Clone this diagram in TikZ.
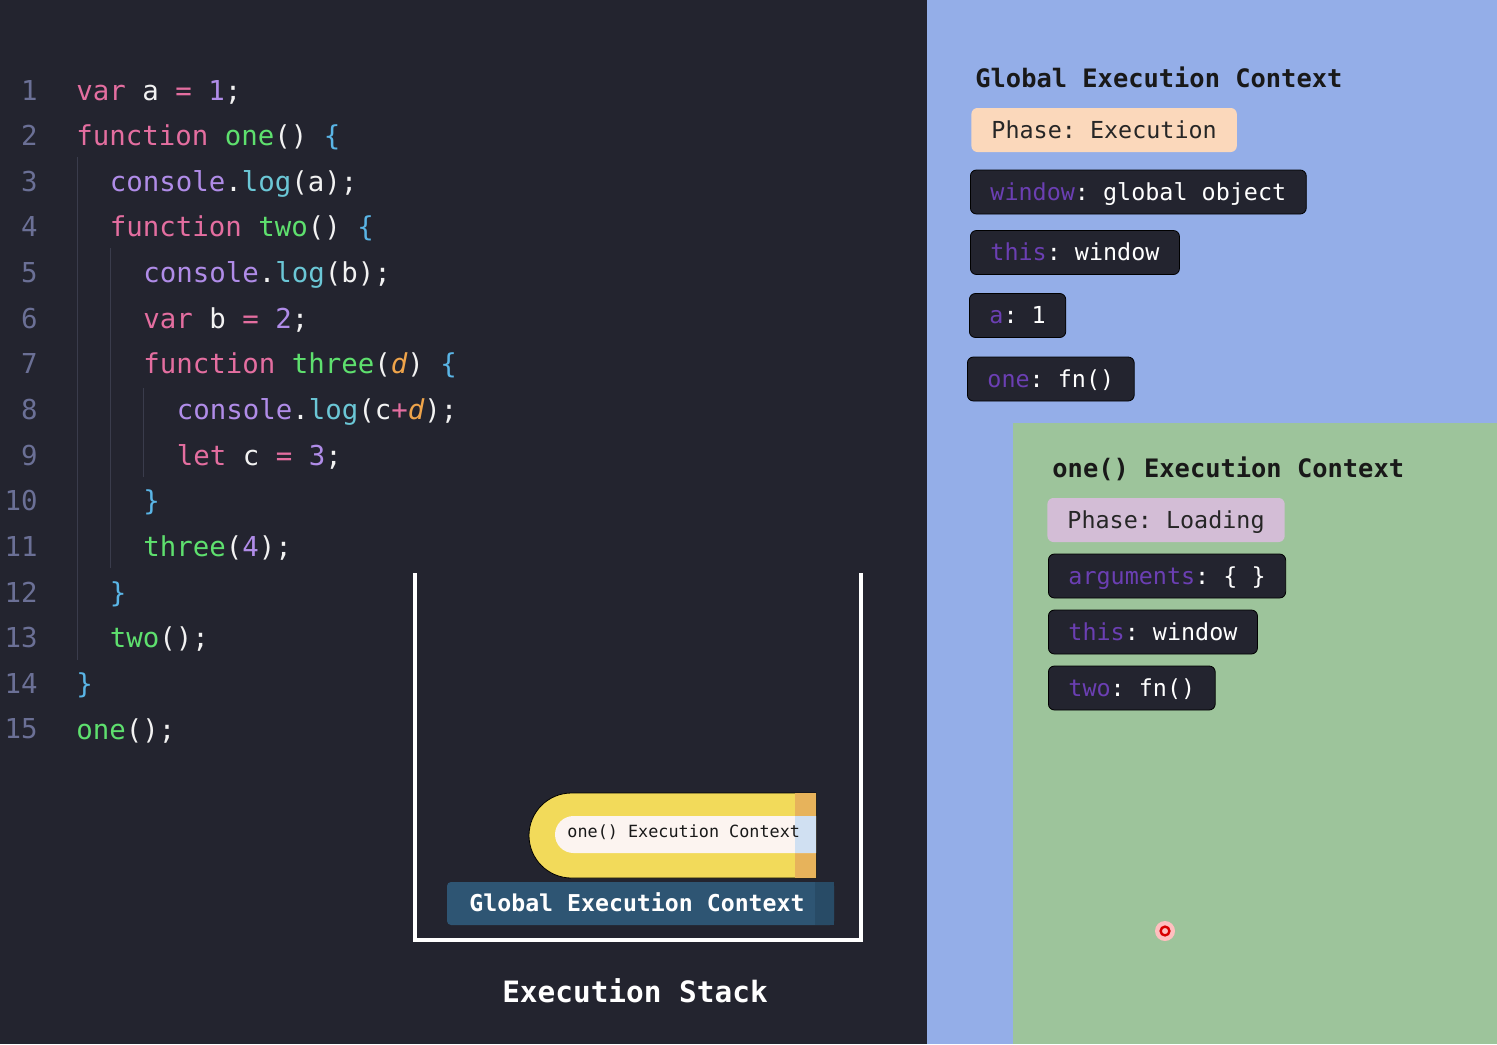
\documentclass[tikz,border=0pt]{standalone}
\usepackage{fontspec}
\setmonofont{DejaVu Sans Mono}
\usepackage{xcolor}

\definecolor{bgdark}{HTML}{23242F}
\definecolor{bgblue}{HTML}{94AEE8}
\definecolor{bggreen}{HTML}{9DC49B}
\definecolor{linegrey}{HTML}{6B7096}
\definecolor{guidegrey}{HTML}{3A3C4C}
\definecolor{codewhite}{HTML}{F2F2F2}
\definecolor{jspink}{HTML}{E46EA0}
\definecolor{jsgreen}{HTML}{5EE06E}
\definecolor{jslilac}{HTML}{B08CE8}
\definecolor{jscyan}{HTML}{6BC7D6}
\definecolor{jsblue}{HTML}{5AB5E6}
\definecolor{jsorange}{HTML}{EFA44A}
\definecolor{keypurple}{HTML}{6B3FB3}
\definecolor{boxdark}{HTML}{23242F}
\definecolor{peach}{HTML}{FBD8BB}
\definecolor{lilac}{HTML}{D3BDD6}
\definecolor{stackblue}{HTML}{2E5573}
\definecolor{stackdeep}{HTML}{284B66}
\definecolor{pillyellow}{HTML}{F2DA5A}
\definecolor{pillorange}{HTML}{E7B35B}
\definecolor{pillwhite}{HTML}{FCF4F0}
\definecolor{pillblue}{HTML}{D0E0F2}

\newcommand{\jskw}[1]{\textcolor{jspink}{#1}}
\newcommand{\jsfn}[1]{\textcolor{jsgreen}{#1}}
\newcommand{\jsnum}[1]{\textcolor{jslilac}{#1}}
\newcommand{\jsobj}[1]{\textcolor{jslilac}{#1}}
\newcommand{\jsmeth}[1]{\textcolor{jscyan}{#1}}
\newcommand{\jsbrc}[1]{\textcolor{jsblue}{#1}}
\newcommand{\jsarg}[1]{\textcolor{jsorange}{\itshape #1}}
\newcommand{\jskey}[1]{\textcolor{keypurple}{#1}}

\begin{document}
\begin{tikzpicture}[x=0.5pt,y=-0.5pt,
  lineno/.style={anchor=base east,inner sep=0pt,text=linegrey,font=\ttfamily\fontsize{13.7pt}{16pt}\selectfont},
  codeline/.style={anchor=base west,inner sep=0pt,text=codewhite,font=\ttfamily\fontsize{13.7pt}{16pt}\selectfont},
  slot/.style={anchor=west,draw=black,fill=boxdark,rounded corners=3pt,inner xsep=10pt,inner ysep=0pt,minimum height=22pt,text height=0.95em,text depth=0.15em,text=white,font=\ttfamily\fontsize{11.7pt}{14pt}\selectfont},
  phasebox/.style={slot,draw=none,text=black!85},
  ctxtitle/.style={anchor=west,inner sep=0pt,text=black!90,font=\ttfamily\bfseries\fontsize{12.7pt}{15pt}\selectfont}]

\useasboundingbox (0,0) rectangle (1497,1044);
\fill[bgdark] (0,0) rectangle (927,1044);
\fill[bgblue] (927,0) rectangle (1497,1044);
\fill[bggreen] (1013,423) rectangle (1497,1044);

\draw[guidegrey,line width=0.5pt] (77,157) -- (77,660);
\draw[guidegrey,line width=0.5pt] (110,248) -- (110,568);
\draw[guidegrey,line width=0.5pt] (143,388) -- (143,477);

\foreach \n in {1,...,15}
  \node[lineno] (ln\n) at (38,{100+45.64*(\n-1)}) {\n};

\node[codeline] (l1) at (76,100) {\jskw{var} a \jskw{=} \jsnum{1};};
\node[codeline] (l2) at (76,145.6) {\jskw{function} \jsfn{one}() \jsbrc{\{}};
\node[codeline] (l3) at (109.5,191.3) {\jsobj{console}.\jsmeth{log}(a);};
\node[codeline] (l4) at (109.5,236.9) {\jskw{function} \jsfn{two}() \jsbrc{\{}};
\node[codeline] (l5) at (143,282.6) {\jsobj{console}.\jsmeth{log}(b);};
\node[codeline] (l6) at (143,328.2) {\jskw{var} b \jskw{=} \jsnum{2};};
\node[codeline] (l7) at (143,373.8) {\jskw{function} \jsfn{three}(\jsarg{d}) \jsbrc{\{}};
\node[codeline] (l8) at (176.5,419.5) {\jsobj{console}.\jsmeth{log}(c\jskw{+}\jsarg{d});};
\node[codeline] (l9) at (176.5,465.1) {\jskw{let} c \jskw{=} \jsnum{3};};
\node[codeline] (l10) at (143,510.8) {\jsbrc{\}}};
\node[codeline] (l11) at (143,556.4) {\jsfn{three}(\jsnum{4});};
\node[codeline] (l12) at (109.5,602) {\jsbrc{\}}};
\node[codeline] (l13) at (109.5,647.7) {\jsfn{two}();};
\node[codeline] (l14) at (76,693.3) {\jsbrc{\}}};
\node[codeline] (l15) at (76,739) {\jsfn{one}();};

\draw[white,line width=2pt] (415,573) -- (415,940) -- (861,940) -- (861,573);

\node[fill=stackblue,rounded corners=2pt,minimum width=193.5pt,minimum height=21.5pt,inner sep=0pt] (gec-bar) at (640.5,903.5) {};
\fill[stackdeep] (815,882) rectangle (834,925);
\node[inner sep=0pt,text=white,font=\ttfamily\bfseries\fontsize{11.6pt}{14pt}\selectfont] (gec-bar-text) at (637,902) {Global Execution Context};

\filldraw[fill=pillyellow,draw=black,line width=0.4pt] (816,793) -- (571.5,793) arc[start angle=90,end angle=270,radius=21.25pt] -- (816,878) -- cycle;
\fill[pillorange] (795,793.3) rectangle (816,877.7);
\fill[pillwhite] (816,816) -- (573.5,816) arc[start angle=90,end angle=270,radius=9.25pt] -- (816,853) -- cycle;
\fill[pillblue] (795,816) rectangle (816,853);
\node[anchor=west,inner sep=0pt,text=black!90,font=\ttfamily\fontsize{8.4pt}{10pt}\selectfont] (one-pill) at (567,832) {one() Execution Context};

\node[text=white,font=\ttfamily\bfseries\fontsize{14.7pt}{17pt}\selectfont] (stack-label) at (635,991) {Execution Stack};

\node[ctxtitle] (gec-title) at (975,77) {Global Execution Context};
\node[phasebox,fill=peach] (gec-phase) at (971,130) {Phase: Execution};
\node[slot] (gec-window) at (970,192) {\jskey{window}: global object};
\node[slot] (gec-this) at (970,252.5) {\jskey{this}: window};
\node[slot] (gec-a) at (969,315.5) {\jskey{a}: 1};
\node[slot] (gec-one) at (967,379) {\jskey{one}: fn()};

\node[ctxtitle] (one-title) at (1052,469) {one() Execution Context};
\node[phasebox,fill=lilac] (one-phase) at (1047,520) {Phase: Loading};
\node[slot] (one-args) at (1048,576) {\jskey{arguments}: \{ \}};
\node[slot] (one-this) at (1048,632) {\jskey{this}: window};
\node[slot] (one-two) at (1048,688) {\jskey{two}: fn()};

\fill[red!25] (1165,931) circle (5pt);
\draw[red!85!black,line width=1.2pt] (1165,931) circle (2.2pt);

\end{tikzpicture}
\end{document}
